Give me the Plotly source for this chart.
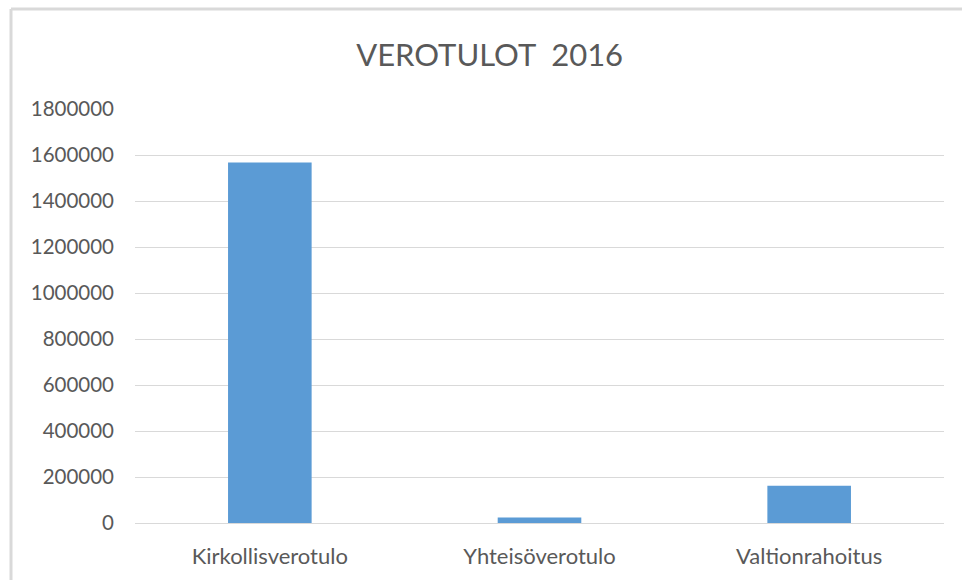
import plotly.graph_objects as go

categories = ["Kirkollisverotulo", "Yhteisöverotulo", "Valtionrahoitus"]
values = [1567000, 24000, 162000]
title_text = "VEROTULOT  2016"
y_ticks = list(range(0, 1800001, 200000))

W, H = 962, 580
ML, MR, MT, MB = 135, 18, 109, 57
pw, ph = W - ML - MR, H - MT - MB

def px_to_paper_x(px):
    return (px - ML) / pw

def px_to_paper_y(py):
    return (H - MB - py) / ph

text_color = "#595959"
font_family = "Lato, 'Open Sans', sans-serif"

fig = go.Figure(
    go.Bar(
        x=categories,
        y=values,
        marker=dict(color="#5B9BD5", line=dict(width=0)),
        width=0.31,
    )
)

fig.update_layout(
    width=W,
    height=H,
    margin=dict(l=ML, r=MR, t=MT, b=MB),
    paper_bgcolor="white",
    plot_bgcolor="white",
    showlegend=False,
    title=dict(
        text=title_text,
        x=0.509,
        xanchor="center",
        y=1 - 55 / H,
        yanchor="middle",
        font=dict(family=font_family, size=31, color=text_color),
    ),
    font=dict(family=font_family, size=20.5, color=text_color),
    xaxis=dict(
        showgrid=False,
        showline=True,
        linecolor="#D9D9D9",
        linewidth=1,
        ticks="",
        ticklabelstandoff=14,
        tickfont=dict(size=22, color=text_color),
    ),
    yaxis=dict(
        range=[0, 1800000],
        tickvals=y_ticks,
        ticktext=[str(v) for v in y_ticks],
        showgrid=True,
        gridcolor="#D9D9D9",
        gridwidth=1,
        zeroline=False,
        showline=False,
        ticks="",
        ticklabelstandoff=20,
        tickfont=dict(size=20.5, color=text_color),
    ),
    shapes=[
        dict(
            type="line", xref="paper", yref="paper",
            x0=px_to_paper_x(11), x1=px_to_paper_x(W + 10),
            y0=px_to_paper_y(9), y1=px_to_paper_y(9),
            line=dict(color="#D9D9D9", width=3),
        ),
        dict(
            type="line", xref="paper", yref="paper",
            x0=px_to_paper_x(11), x1=px_to_paper_x(11),
            y0=px_to_paper_y(9), y1=px_to_paper_y(H + 10),
            line=dict(color="#D9D9D9", width=3),
        ),
    ],
)

fig.write_html(
    "out.html",
    config={"displayModeBar": False},
    post_script="document.body.style.margin='0';document.body.style.overflow='hidden';",
)
